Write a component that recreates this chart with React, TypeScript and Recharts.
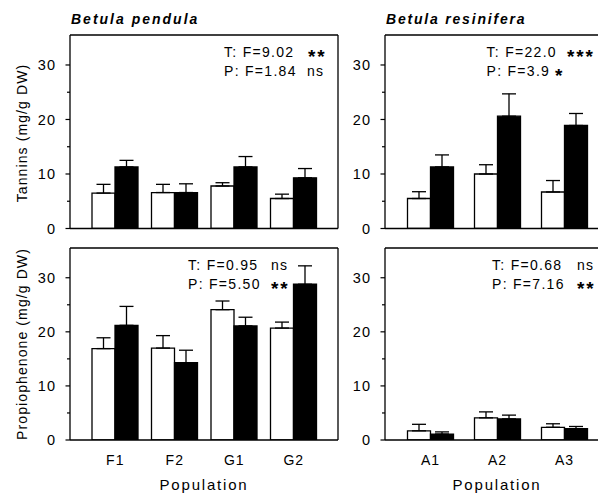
import React from 'react';
import { BarChart, Bar, XAxis, YAxis, ErrorBar } from 'recharts';

// ---- data ----
const pendulaPops = ['F1', 'F2', 'G1', 'G2'];
const resiniferaPops = ['A1', 'A2', 'A3'];

// Tannins, Betula pendula
const tanPendOpen = [6.5, 6.6, 7.8, 5.5];
const tanPendOpenErr = [1.6, 1.5, 0.6, 0.8];
const tanPendFilled = [11.3, 6.6, 11.3, 9.3];
const tanPendFilledErr = [1.2, 1.6, 1.9, 1.7];

// Tannins, Betula resinifera
const tanResOpen = [5.5, 10.0, 6.7];
const tanResOpenErr = [1.25, 1.7, 2.1];
const tanResFilled = [11.3, 20.6, 18.9];
const tanResFilledErr = [2.2, 4.1, 2.2];

// Propiophenone, Betula pendula
const proPendOpen = [16.9, 17.0, 24.1, 20.7];
const proPendOpenErr = [2.0, 2.3, 1.6, 1.1];
const proPendFilled = [21.2, 14.3, 21.1, 28.8];
const proPendFilledErr = [3.5, 2.3, 1.6, 3.4];

// Propiophenone, Betula resinifera
const proResOpen = [1.7, 4.1, 2.35];
const proResOpenErr = [1.2, 1.1, 0.65];
const proResFilled = [1.1, 3.9, 2.1];
const proResFilledErr = [0.4, 0.7, 0.4];

const yTicks = [0, 5, 10, 15, 20, 25, 30];
const yLabelTicks = [0, 10, 20, 30];
const yMax = 35.5;

const titles = ['Betula pendula', 'Betula resinifera'];
const yLabels = ['Tannins (mg/g DW)', 'Propiophenone (mg/g DW)'];
const xLabel = 'Population';
const stats = {
  tl: [['T: F=9.02', '**'], ['P: F=1.84', 'ns']],
  tr: [['T: F=22.0', '***'], ['P: F=3.9', '*']],
  bl: [['T: F=0.95', 'ns'], ['P: F=5.50', '**']],
  br: [['T: F=0.68', 'ns'], ['P: F=7.16', '**']],
};

function build(cats: string[], open: number[], openErr: number[], filled: number[], filledErr: number[]) {
  return cats.map((c, i) => ({
    pop: c,
    open: open[i],
    openErr: [0, openErr[i]],
    filled: filled[i],
    filledErr: [0, filledErr[i]],
  }));
}

const FONT = '"Liberation Sans", Arial, Helvetica, sans-serif';
const LW = 1.3;

const YTick = (props: any) => {
  const { x, y, payload } = props;
  const v = payload.value;
  const major = yLabelTicks.includes(v);
  return (
    <g>
      <line x1={x - (major ? 4.5 : 3)} x2={x} y1={y} y2={y} stroke="#000" strokeWidth={1.2} />
      {major && (
        <text x={x - 14} y={y} dy="0.36em" textAnchor="end" fontSize={14.5} fontFamily={FONT} letterSpacing={1} fill="#000">
          {v}
        </text>
      )}
    </g>
  );
};

const XTick = (props: any) => {
  const { x, y, payload } = props;
  return (
    <text x={x + 0.5} y={y + 25} textAnchor="middle" fontSize={14} fontFamily={FONT} letterSpacing={1} fill="#000">
      {payload.value}
    </text>
  );
};

function Panel({ data, width, height, margin, pad, showX }: any) {
  const axisLine = { stroke: '#000', strokeWidth: LW };
  return (
    <BarChart width={width} height={height} data={data} margin={margin} barGap={0} barSize={23}>
      <XAxis
        dataKey="pop"
        padding={pad}
        axisLine={axisLine}
        tickLine={false}
        tickSize={0}
        tickMargin={0}
        height={1}
        interval={0}
        tick={showX ? <XTick /> : false}
      />
      <XAxis xAxisId="top" dataKey="pop" orientation="top" axisLine={axisLine} tick={false} tickLine={false} height={1} />
      <YAxis
        domain={[0, yMax]}
        ticks={yTicks}
        interval={0}
        width={1}
        tickSize={0}
        tickMargin={0}
        tickLine={false}
        axisLine={axisLine}
        tick={<YTick />}
        allowDataOverflow
      />
      <YAxis yAxisId="right" orientation="right" domain={[0, yMax]} width={1} tick={false} tickLine={false} axisLine={axisLine} />
      <Bar dataKey="open" fill="#fff" stroke="#000" strokeWidth={LW} isAnimationActive={false}>
        <ErrorBar dataKey="openErr" width={7} stroke="#000" strokeWidth={LW} direction="y" />
      </Bar>
      <Bar dataKey="filled" fill="#000" stroke="#000" strokeWidth={LW} isAnimationActive={false}>
        <ErrorBar dataKey="filledErr" width={7} stroke="#000" strokeWidth={LW} direction="y" />
      </Bar>
    </BarChart>
  );
}

function Stat({ x, sx, y, lines }: any) {
  return (
    <g fontFamily={FONT} fill="#000">
      {lines.map((l: string[], i: number) => {
        const isStar = l[1].includes('*');
        return (
          <g key={i}>
            <text x={x} y={y + i * 19} fontSize={14} letterSpacing={1.3}>
              {l[0]}
            </text>
            <text
              x={sx[i]}
              y={y + i * 19 + (isStar ? 6 : 0)}
              fontSize={isStar ? 19 : 14}
              fontWeight={isStar ? 'bold' : 'normal'}
              letterSpacing={isStar ? 1.8 : 1.3}
            >
              {l[1]}
            </text>
          </g>
        );
      })}
    </g>
  );
}

export default function App() {
  const tl = build(pendulaPops, tanPendOpen, tanPendOpenErr, tanPendFilled, tanPendFilledErr);
  const tr = build(resiniferaPops, tanResOpen, tanResOpenErr, tanResFilled, tanResFilledErr);
  const bl = build(pendulaPops, proPendOpen, proPendOpenErr, proPendFilled, proPendFilledErr);
  const br = build(resiniferaPops, proResOpen, proResOpenErr, proResFilled, proResFilledErr);
  const padL = { left: 15, right: 15 };
  const padR = { left: 11.5, right: 11.5 };
  return (
    <div
      style={{
        position: 'absolute',
        left: 0,
        top: 0,
        width: 598,
        height: 500,
        overflow: 'hidden',
        background: '#fff',
        fontFamily: FONT,
      }}
    >
      <div style={{ position: 'absolute', left: 0, top: 0 }}>
        <Panel data={tl} width={345} height={240} margin={{ top: 34, left: 69, right: 6, bottom: 10.5 }} pad={padL} showX={false} />
      </div>
      <div style={{ position: 'absolute', left: 300, top: 0 }}>
        <Panel data={tr} width={320} height={240} margin={{ top: 34, left: 84, right: 10, bottom: 10.5 }} pad={padR} showX={false} />
      </div>
      <div style={{ position: 'absolute', left: 0, top: 213 }}>
        <Panel data={bl} width={345} height={287} margin={{ top: 34, left: 69, right: 6, bottom: 59 }} pad={padL} showX={true} />
      </div>
      <div style={{ position: 'absolute', left: 300, top: 213 }}>
        <Panel data={br} width={320} height={287} margin={{ top: 34, left: 84, right: 10, bottom: 59 }} pad={padR} showX={true} />
      </div>
      <svg width={598} height={500} style={{ position: 'absolute', left: 0, top: 0, pointerEvents: 'none' }}>
        <g fontFamily={FONT} fill="#000">
          <text x={71} y={24} fontSize={14} fontWeight="bold" fontStyle="italic" letterSpacing={2}>
            {titles[0]}
          </text>
          <text x={386} y={24} fontSize={14} fontWeight="bold" fontStyle="italic" letterSpacing={1.8}>
            {titles[1]}
          </text>
          <text x={27} y={133} transform="rotate(-90 27 133)" textAnchor="middle" fontSize={14} letterSpacing={1.1}>
            {yLabels[0]}
          </text>
          <text x={27} y={344} transform="rotate(-90 27 344)" textAnchor="middle" fontSize={14} letterSpacing={1.1}>
            {yLabels[1]}
          </text>
          <text x={204} y={490} textAnchor="middle" fontSize={15} letterSpacing={1.8}>
            {xLabel}
          </text>
          <text x={497} y={490} textAnchor="middle" fontSize={15} letterSpacing={1.8}>
            {xLabel}
          </text>
        </g>
        <Stat x={224} sx={[308, 307]} y={57} lines={stats.tl} />
        <Stat x={486.5} sx={[567, 555]} y={57} lines={stats.tr} />
        <Stat x={188} sx={[271, 271]} y={270} lines={stats.bl} />
        <Stat x={492} sx={[577, 577]} y={270} lines={stats.br} />
      </svg>
    </div>
  );
}
